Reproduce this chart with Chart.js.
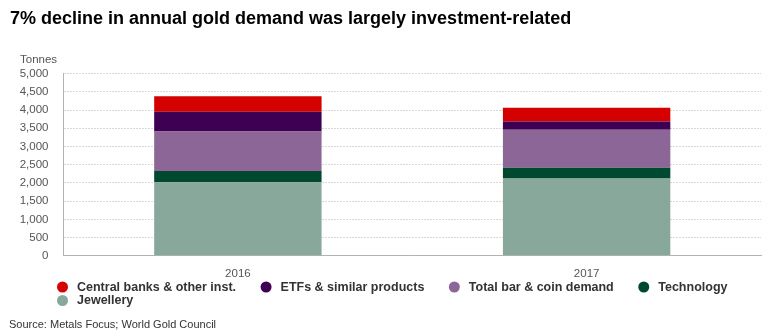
<!DOCTYPE html>
<html>
<head>
<meta charset="utf-8">
<script src="https://cdn.jsdelivr.net/npm/chart.js@4.4.1/dist/chart.umd.min.js"></script>
<style>
    html, body { margin: 0; padding: 0; background: #fff; }
    #wrap { width: 770px; height: 336px; }
</style>
</head>
<body>
<div id="wrap"><canvas id="goldChart" width="770" height="336"></canvas></div>
<script>
// Data (tonnes)
const years = ['2016', '2017'];
const jewellery = [2015, 2120];
const technology = [310, 295];
const barCoin = [1085, 1045];
const etfs = [540, 225];
const centralBanks = [430, 380];

const seriesNames = ['Jewellery', 'Technology', 'Total bar & coin demand', 'ETFs & similar products', 'Central banks & other inst.'];
const seriesColors = ['#87a89b', '#00482f', '#8b6697', '#3e0052', '#d50000'];

const FONT = '"Liberation Sans", Arial, Helvetica, sans-serif';

// Legend, "Tonnes" label and source line drawn on the canvas
const extrasPlugin = {
    id: 'extras',
    afterDraw(chart) {
        const ctx = chart.ctx;
        ctx.save();
        ctx.textBaseline = 'middle';
        ctx.textAlign = 'left';

        // unit label above the y axis
        ctx.font = '11.5px ' + FONT;
        ctx.fillStyle = '#555555';
        ctx.fillText('Tonnes', 20, 60);

        // legend, top series first
        ctx.font = 'bold 12.5px ' + FONT;
        const items = chart.data.datasets.slice().reverse();
        let x = 57;
        let y = 287;
        items.forEach(ds => {
            const w = ctx.measureText(ds.label).width;
            if (x + 20 + w > 760) {
                x = 57;
                y += 13.5;
            }
            ctx.fillStyle = ds.backgroundColor;
            ctx.beginPath();
            ctx.arc(x + 5.5, y, 5.5, 0, Math.PI * 2);
            ctx.fill();
            ctx.fillStyle = '#333333';
            ctx.fillText(ds.label, x + 20, y + 0.5);
            x += 20 + w + 24.5;
        });

        // source
        ctx.font = '11px ' + FONT;
        ctx.fillStyle = '#333333';
        ctx.fillText('Source: Metals Focus; World Gold Council', 9, 325);
        ctx.restore();
    }
};

const valueSets = [jewellery, technology, barCoin, etfs, centralBanks];

new Chart(document.getElementById('goldChart'), {
    type: 'bar',
    data: {
        labels: years,
        datasets: valueSets.map((vals, i) => ({
            label: seriesNames[i],
            data: vals,
            backgroundColor: seriesColors[i],
            borderWidth: 0,
            barPercentage: 0.96,
            categoryPercentage: 0.5
        }))
    },
    options: {
        responsive: false,
        animation: false,
        devicePixelRatio: 1,
        layout: {
            padding: { left: 10, right: 9, top: 0, bottom: 44 }
        },
        plugins: {
            legend: { display: false },
            tooltip: { enabled: false },
            title: {
                display: true,
                text: '7% decline in annual gold demand was largely investment-related',
                align: 'start',
                color: '#000000',
                font: { family: FONT, size: 18, weight: 'bold' },
                padding: { top: 8, bottom: 44 }
            }
        },
        scales: {
            x: {
                stacked: true,
                grid: { display: false, drawTicks: false },
                border: { display: true, color: '#b3b3b3', width: 1 },
                ticks: {
                    color: '#555555',
                    padding: 11.2,
                    font: { family: FONT, size: 11.5 }
                }
            },
            y: {
                stacked: true,
                min: 0,
                max: 5000,
                afterFit: scale => { scale.width = 53.5; },
                grid: { color: '#d9d9d9', drawTicks: false },
                border: { display: true, color: '#b3b3b3', width: 1, dash: [2, 1] },
                ticks: {
                    stepSize: 500,
                    autoSkip: false,
                    color: '#555555',
                    padding: 15,
                    font: { family: FONT, size: 11.5 },
                    callback: v => v.toLocaleString('en-US')
                }
            }
        }
    },
    plugins: [extrasPlugin]
});
</script>
</body>
</html>
